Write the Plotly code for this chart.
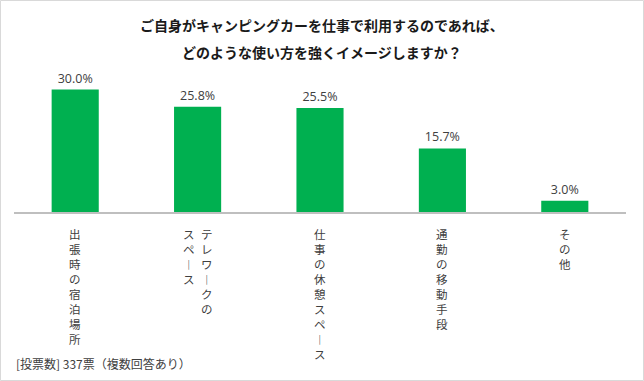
import plotly.graph_objects as go

categories = ["出張時の宿泊場所", "テレワークの|スペース", "仕事の休憩スペース", "通勤の移動手段", "その他"]
values = [30.0, 25.8, 25.5, 15.7, 3.0]
value_labels = ["30.0%", "25.8%", "25.5%", "15.7%", "3.0%"]
title_lines = ["ご自身がキャンピングカーを仕事で利用するのであれば、", "どのような使い方を強くイメージしますか？"]
footnote = "[投票数] 337票（複数回答あり）"

W, H = 644, 381
L, R, T, B = 14, 18, 69, 168
JP = "Noto Sans CJK JP"
TXT = "#404040"

fig = go.Figure()
fig.add_trace(go.Bar(
    x=list(range(len(categories))), y=values,
    marker=dict(color="#00B050", line=dict(width=0)),
    text=value_labels, textposition="outside",
    textfont=dict(family="Open Sans, " + JP, size=12.5, color=TXT),
    cliponaxis=False, width=0.385,
))

def vert(s):
    return "<br>".join("︱" if c == "ー" else c for c in s)

annotations = []
for i, cat in enumerate(categories):
    cols = cat.split("|")
    n = len(cols)
    for j, col in enumerate(cols):
        # vertical Japanese: first column on the right
        shift = (n - 1) * 9 - j * 18
        annotations.append(dict(
            x=i, y=B / H, xref="x", yref="paper", xanchor="center", yanchor="top",
            yshift=-11, xshift=shift, text=vert(col), showarrow=False,
            font=dict(family=JP, size=11.5, color=TXT), align="center",
        ))

for k, line in enumerate(title_lines):
    annotations.append(dict(
        x=0.5, y=1 - (25 + 27 * k) / H, xref="paper", yref="paper",
        xanchor="center", yanchor="middle", text="<b>" + line + "</b>",
        showarrow=False, font=dict(family=JP, size=14, color="#1a1a1a"),
    ))

annotations.append(dict(
    x=14 / W, y=1 - 363 / H, xref="paper", yref="paper", xanchor="left", yanchor="middle",
    text=footnote, showarrow=False, font=dict(family=JP, size=12, color=TXT),
))

fig.update_layout(
    width=W, height=H, margin=dict(l=0, r=0, t=0, b=0),
    paper_bgcolor="white", plot_bgcolor="white", showlegend=False,
    xaxis=dict(domain=[L / W, 1 - R / W], range=[-0.5, len(categories) - 0.5],
               showticklabels=False, ticks="", showgrid=False, zeroline=False,
               showline=False),
    yaxis=dict(domain=[B / H, 1 - T / H], range=[0, 35], visible=False, showgrid=False),
    annotations=annotations,
    shapes=[
        dict(type="line", xref="paper", yref="paper", x0=L / W, x1=1 - R / W,
             y0=B / H, y1=B / H, line=dict(color="#BFBFBF", width=2)),
        dict(type="rect", xref="paper", yref="paper", x0=0.5 / W, x1=1 - 0.5 / W,
             y0=0.5 / H, y1=1 - 0.5 / H, line=dict(color="#D9D9D9", width=1)),
    ],
)

fig.write_html("out.html", config={"displayModeBar": False},
               post_script="document.body.style.margin='0';document.body.style.overflow='hidden';")
